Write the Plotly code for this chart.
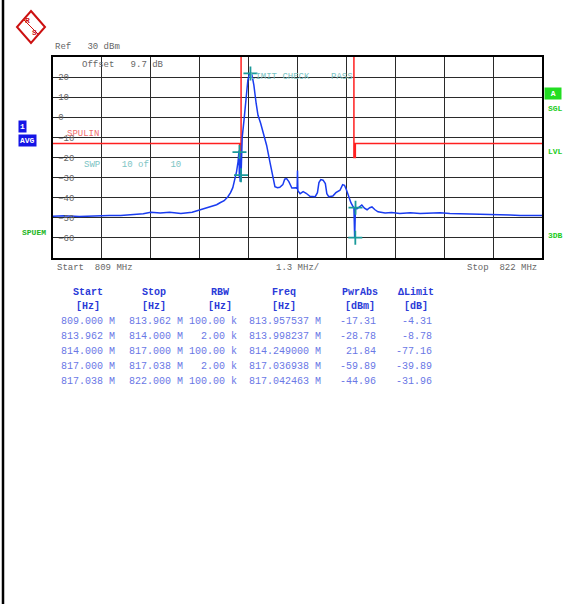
import plotly.graph_objects as go

# ---------------- data ----------------
trace_freq = [809.0, 809.3, 809.7, 810.1, 810.5, 810.8, 811.1, 811.4, 811.6, 811.85, 812.1, 812.4,
              812.7, 812.9, 813.04, 813.15, 813.25, 813.35, 813.44, 813.55, 813.65, 813.72, 813.78,
              813.84, 813.88, 813.92, 813.945, 813.955, 813.965, 813.975, 813.985, 813.995, 814.0,
              814.03, 814.08, 814.13, 814.18, 814.22, 814.25, 814.29, 814.34, 814.40, 814.45, 814.52,
              814.60, 814.68, 814.77, 814.85, 814.90, 814.97, 815.03, 815.11, 815.16, 815.21, 815.27,
              815.35, 815.45, 815.49, 815.50, 815.51, 815.57, 815.65, 815.73, 815.83, 815.97, 816.03,
              816.07, 816.12, 816.18, 816.24, 816.28, 816.33, 816.44, 816.52, 816.63, 816.70, 816.75,
              816.80, 816.86, 816.92, 816.98, 817.0, 817.02, 817.04, 817.08, 817.14, 817.21, 817.28,
              817.35, 817.42, 817.48, 817.56, 817.64, 817.83, 818.0, 818.22, 818.5, 818.76, 819.0,
              819.29, 819.55, 819.82, 820.1, 820.35, 820.6, 820.88, 821.15, 821.42, 821.7, 822.0]
trace_level = [-49.2, -49.0, -49.3, -49.0, -48.8, -48.9, -48.3, -48.0, -47.2, -47.6, -47.3, -47.8,
               -47.2, -46.0, -45.0, -44.6, -43.8, -43.5, -42.5, -41.5, -39.5, -37.5, -35.0,
               -31.0, -27.0, -22.0, -16.5, -30.0, -17.5, -32.0, -20.0, -31.5, -28.8,
               -10.0, -1.0, 10.0, 18.5, 21.5, 22.0, 21.0, 16.0, 7.0, 1.0, -3.0,
               -8.5, -14.0, -22.5, -31.0, -34.5, -35.0, -34.8, -33.5, -30.8, -30.5, -32.0,
               -35.2, -35.0, -35.5, -26.5, -36.5, -38.0, -37.0, -37.8, -39.3, -39.5, -37.5,
               -32.5, -31.0, -31.3, -33.0, -38.0, -39.5, -39.2, -37.5, -36.3, -33.5, -33.8,
               -36.0, -39.5, -42.5, -44.5, -45.0, -59.9, -45.0, -45.5, -44.5, -43.6, -45.2,
               -46.0, -45.0, -44.6, -46.0, -47.0, -47.6, -47.4, -47.8, -47.5, -47.9, -47.6,
               -47.5, -47.9, -48.0, -47.9, -48.2, -48.4, -48.5, -48.6, -48.8, -48.7, -48.9]

limit_freq = [809.0, 813.962, 813.962, 814.0, 814.0, 817.0, 817.0, 817.038, 817.038, 822.0]
limit_level = [-13, -13, -20, -20, 99, 99, -20, -20, -13, -13]

marker_freq = [813.957537, 813.998237, 814.249, 817.036938, 817.042463]
marker_level = [-17.31, -28.78, 21.84, -59.89, -44.96]

y_ticks = [20, 10, 0, -10, -20, -30, -40, -50, -60]
y_tick_text = ["20", "10", "0", "\u221210", "\u221220", "\u221230", "\u221240", "\u221250", "\u221260"]

tbl_headers = ["Start", "Stop", "RBW", "Freq", "PwrAbs", "\u0394Limit"]
tbl_units = ["[Hz]", "[Hz]", "[Hz]", "[Hz]", "[dBm]", "[dB]"]
col_start = ["809.000 M", "813.962 M", "814.000 M", "817.000 M", "817.038 M"]
col_stop = ["813.962 M", "814.000 M", "817.000 M", "817.038 M", "822.000 M"]
col_rbw = ["100.00 k", "2.00 k", "100.00 k", "2.00 k", "100.00 k"]
col_freq = ["813.957537 M", "813.998237 M", "814.249000 M", "817.036938 M", "817.042463 M"]
col_pwr = ["-17.31", "-28.78", "21.84", "-59.89", "-44.96"]
col_limit = ["-4.31", "-8.78", "-77.16", "-39.89", "-31.96"]

# ---------------- layout geometry (pixels) ----------------
W, H = 565, 604
L, R, T, B = 53, 542, 57, 258
MONO = "Liberation Mono, Courier New, monospace"


def px(x):
    return (x - L) / (R - L)


def py(y):
    return (B - y) / (B - T)


fig = go.Figure()

fig.add_trace(go.Scatter(x=limit_freq, y=limit_level, mode="lines",
                         line=dict(color="#ff2020", width=1.5), hoverinfo="skip"))
fig.add_trace(go.Scatter(x=trace_freq, y=trace_level, mode="lines",
                         line=dict(color="#1a3cf0", width=1.5), hoverinfo="skip"))
fig.add_trace(go.Scatter(x=marker_freq, y=marker_level, mode="markers",
                         marker=dict(symbol="cross-thin", size=10,
                                     line=dict(color="#1a9a9a", width=1.8)),
                         hoverinfo="skip"))

ann = []


def text(x, y, s, color="#666666", size=9, xanchor="left", bold=False, bg=None, family=MONO):
    d = dict(x=px(x), y=py(y), xref="paper", yref="paper", text=("<b>%s</b>" % s) if bold else s,
             showarrow=False, xanchor=xanchor, yanchor="middle",
             font=dict(family=family, size=size, color=color))
    if bg:
        d["bgcolor"] = bg
        d["borderpad"] = 1
    ann.append(d)


# header texts
text(53, 47, "Ref   30 dBm", size=9)
text(80, 65, "Offset   9.7 dB", size=9)
text(248, 77, "LIMIT CHECK    PASS", color="#7cc4c4", size=9)
text(82, 165, "SWP    10 of    10", color="#7cc4c4", size=9)
text(65, 134, "SPULIN", color="#f07070", size=9)

# left side labels
text(18, 126, "1", color="white", size=8, bold=True, bg="#1414e6")
text(18, 140, "AVG", color="white", size=8, bold=True, bg="#1414e6")
text(20, 232, "SPUEM", color="#22b522", size=8, bold=True)

# right side labels
text(544, 93, " A ", color="white", size=8, bold=True, bg="#22dd22")
text(546, 108, "SGL", color="#22cc22", size=8, bold=True)
text(546, 151, "LVL", color="#22cc22", size=8, bold=True)
text(546, 235, "3DB", color="#22cc22", size=8, bold=True)

# bottom axis labels
text(55, 268, "Start  809 MHz", size=9)
text(297, 268, "1.3 MHz/", size=9, xanchor="center")
text(539, 268, "Stop  822 MHz", size=9, xanchor="right")

# logo text
text(27, 21, "R", color="#cc1010", size=8, bold=True, xanchor="center")
text(34, 32, "S", color="#cc1010", size=8, bold=True, xanchor="center")

# table
hdr_centers = [88, 154, 220, 284, 360, 416]
col_right = [117, 185, 239, 323, 378, 434]
for c, h, u in zip(hdr_centers, tbl_headers, tbl_units):
    text(c, 292, h, color="#2a3ad8", size=10, bold=True, xanchor="center")
    text(c, 306, u, color="#2a3ad8", size=10, bold=True, xanchor="center")

row_y = [321.5, 336.5, 351.5, 366.5, 381.5]
cols = [col_start, col_stop, col_rbw, col_freq, col_pwr, col_limit]
for cr, col in zip(col_right, cols):
    for yy, v in zip(row_y, col):
        text(cr, yy, v, color="#6a78e6", size=10, xanchor="right")

shapes = [
    # page left border
    dict(type="line", xref="paper", yref="paper", x0=px(3), x1=px(3), y0=py(0), y1=py(H),
         line=dict(color="black", width=2.5)),
    # logo diamond
    dict(type="path", xref="paper", yref="paper",
         path="M %f %f L %f %f L %f %f L %f %f Z" % (px(31), py(11), px(45), py(27), px(31), py(43), px(17), py(27)),
         line=dict(color="#cc1010", width=2), fillcolor="rgba(0,0,0,0)"),
    dict(type="line", xref="paper", yref="paper", x0=px(23), y0=py(19), x1=px(39), y1=py(35),
         line=dict(color="#cc1010", width=1)),
]

fig.update_layout(
    width=W, height=H, autosize=False,
    margin=dict(l=L, r=W - R, t=T, b=H - B),
    paper_bgcolor="white", plot_bgcolor="white",
    showlegend=False,
    annotations=ann, shapes=shapes,
    xaxis=dict(range=[809, 822], tick0=809, dtick=1.3, showgrid=True, gridcolor="#2a2a2a",
               gridwidth=1, showticklabels=False, zeroline=False, ticks="",
               showline=True, linecolor="black", linewidth=2, mirror=True),
    yaxis=dict(range=[-70, 30], tickvals=y_ticks, ticktext=y_tick_text, showgrid=True,
               gridcolor="#2a2a2a", gridwidth=1, zeroline=False, ticks="",
               ticklabelposition="inside", ticklabelstandoff=4,
               tickfont=dict(family=MONO, size=9, color="#666666"),
               showline=True, linecolor="black", linewidth=2, mirror=True),
)

fig.write_html("out.html", config={"displayModeBar": False},
               post_script="document.body.style.margin='0';document.body.style.overflow='hidden';")
